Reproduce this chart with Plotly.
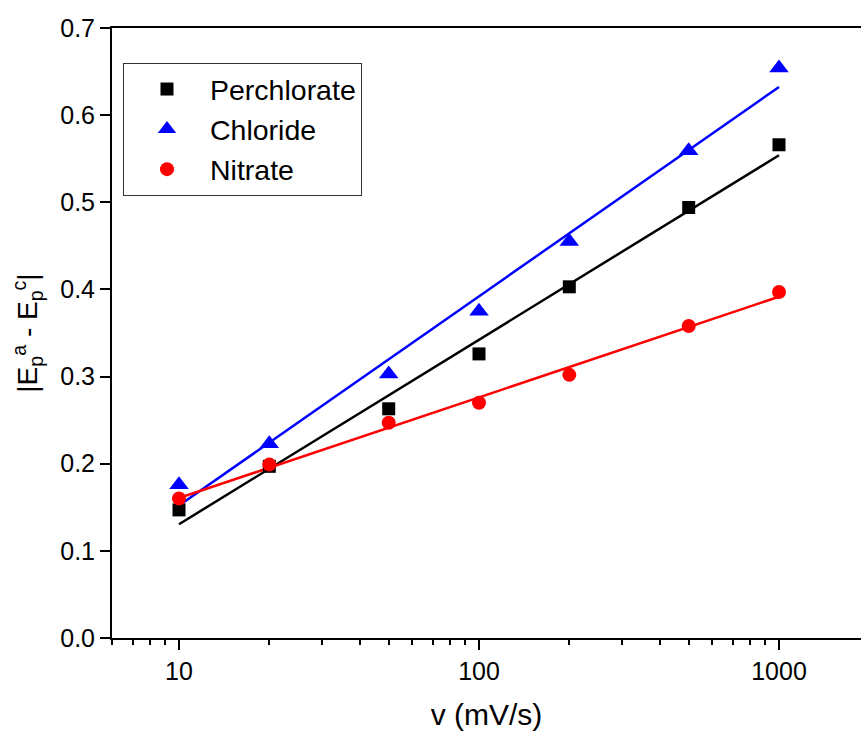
import numpy as np
import plotly.graph_objects as go

scan_rate = [10, 20, 50, 100, 200, 500, 1000]
perchlorate = [0.147, 0.197, 0.263, 0.326, 0.403, 0.494, 0.566]
chloride = [0.176, 0.223, 0.303, 0.375, 0.455, 0.559, 0.654]
nitrate = [0.160, 0.199, 0.247, 0.270, 0.302, 0.358, 0.397]

FONT = "Arial, Liberation Sans, sans-serif"

series = [
    ("Perchlorate", perchlorate, "black", "square", 13),
    ("Chloride", chloride, "blue", "triangle-up", 17),
    ("Nitrate", nitrate, "red", "circle", 14),
]

fig = go.Figure()
lx = np.log10(scan_rate)
xfit = np.array([scan_rate[0], scan_rate[-1]], dtype=float)
for name, vals, color, sym, sz in series:
    slope, icpt = np.polyfit(lx, vals, 1)
    fig.add_trace(go.Scatter(x=xfit, y=slope * np.log10(xfit) + icpt, mode="lines",
                             line=dict(color=color, width=2.5), showlegend=False,
                             hoverinfo="skip"))
for name, vals, color, sym, sz in series:
    fig.add_trace(go.Scatter(x=scan_rate, y=vals, mode="markers", name=name,
                             marker=dict(color=color, symbol=sym, size=sz,
                                         line=dict(width=0))))

fig.update_layout(
    width=861, height=734,
    margin=dict(l=112, r=0, t=28, b=96, autoexpand=False),
    plot_bgcolor="white", paper_bgcolor="white",
    font=dict(family=FONT, size=25, color="black"),
    showlegend=True,
    legend=dict(x=(123 - 112) / 749, y=1 - (63 - 28) / 610, xanchor="left", yanchor="top",
                bordercolor="#333333", borderwidth=1, bgcolor="white",
                font=dict(family=FONT, size=28.5, color="black"),
                itemwidth=76, tracegroupgap=0),
    xaxis=dict(type="log", range=[1 - (179 - 112) / 300, 1 + (861 - 179) / 300],
               automargin=False,
               showline=True, linecolor="black", linewidth=2, mirror=True,
               ticks="outside", ticklen=10, tickwidth=2, tickcolor="black",
               tickvals=[10, 100, 1000], ticktext=["10", "100", "1000"],
               minor=dict(ticks="outside", ticklen=5, tickwidth=2, tickcolor="black",
                          tickvals=[6, 7, 8, 9, 20, 30, 40, 50, 60, 70, 80, 90,
                                    200, 300, 400, 500, 600, 700, 800, 900, 2000],
                          showgrid=False),
               showgrid=False, zeroline=False,
               tickfont=dict(family=FONT, size=25, color="black"),
               title=dict(text="v (mV/s)", font=dict(family=FONT, size=30, color="black"),
                          standoff=20)),
    yaxis=dict(range=[0, 0.7], automargin=False,
               showline=True, linecolor="black", linewidth=2,
               mirror=False, ticks="outside", ticklen=10, tickwidth=2, tickcolor="black",
               tickvals=[0, 0.1, 0.2, 0.3, 0.4, 0.5, 0.6, 0.7],
               ticktext=["0.0", "0.1", "0.2", "0.3", "0.4", "0.5", "0.6", "0.7"],
               showgrid=False, zeroline=False,
               tickfont=dict(family=FONT, size=25, color="black"),
               title=dict(text="|E<sub>p</sub><sup>a</sup> - E<sub>p</sub><sup>c</sup>|",
                          font=dict(family=FONT, size=28, color="black"), standoff=14)),
)

fig.write_html("out.html", config={"displayModeBar": False},
               post_script="document.body.style.margin='0';document.body.style.overflow='hidden';")
